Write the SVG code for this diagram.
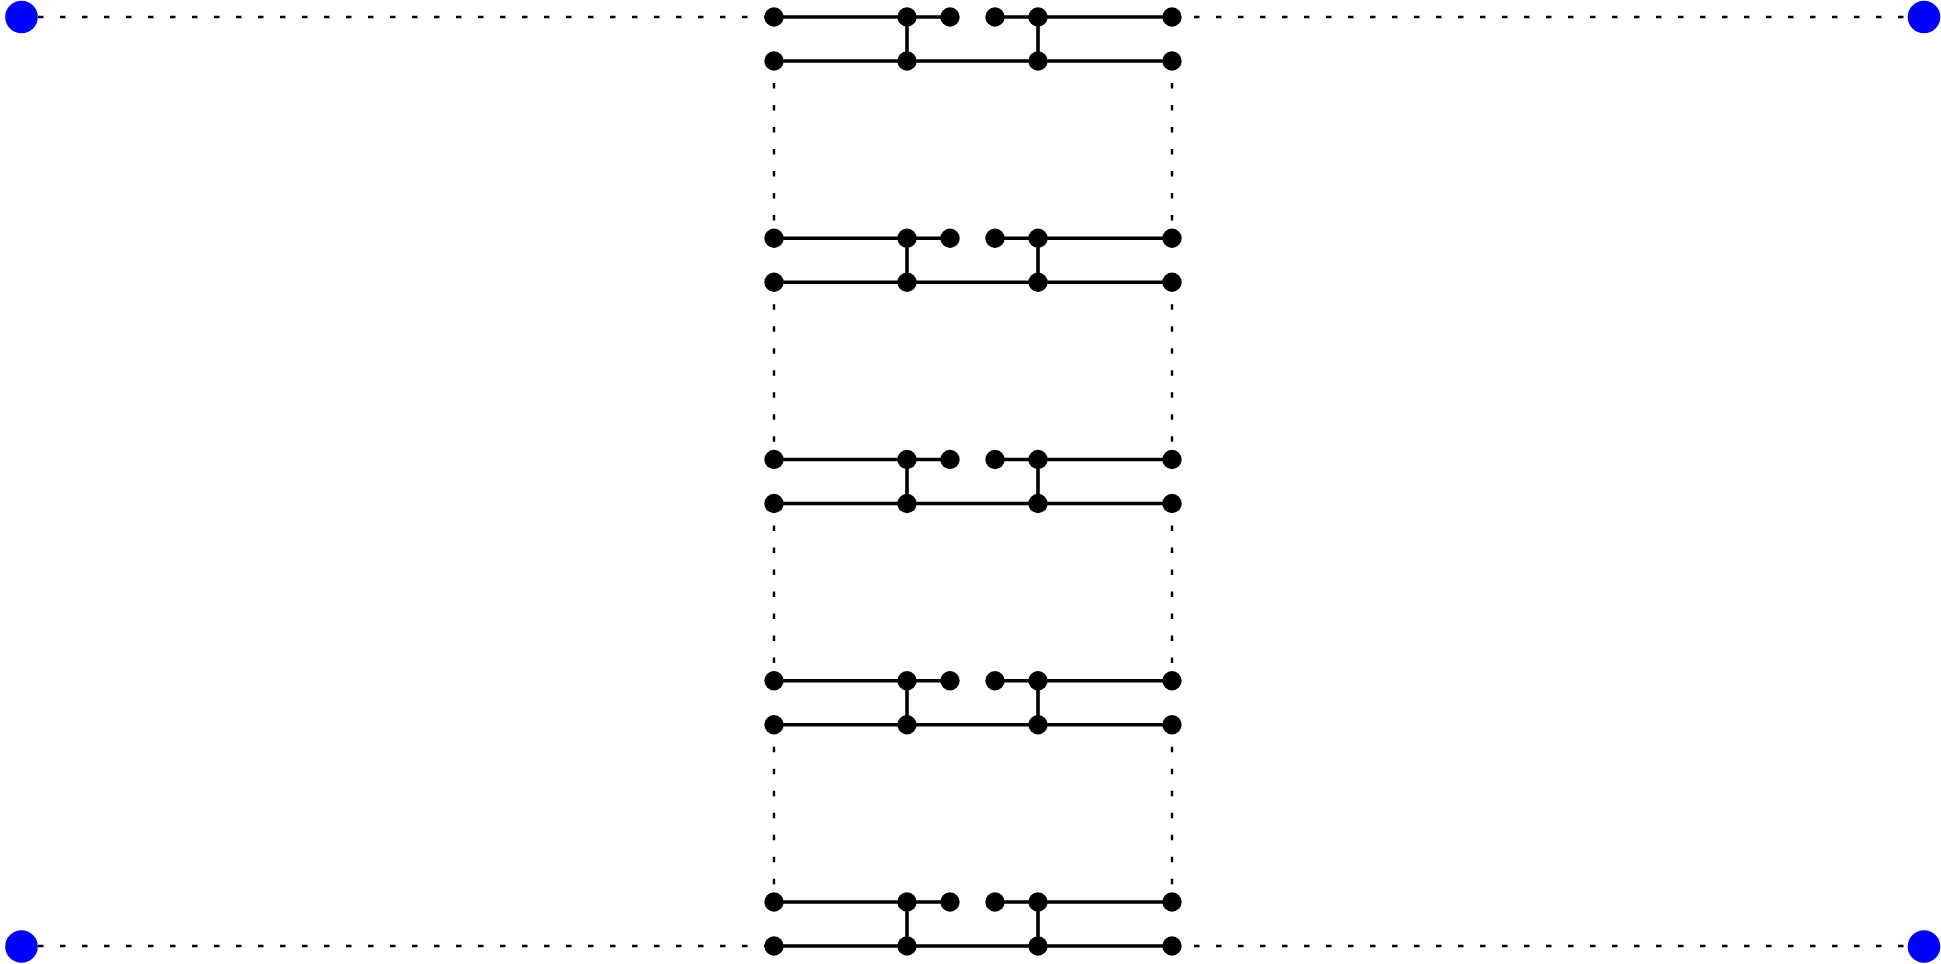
<svg xmlns="http://www.w3.org/2000/svg" width="1941" height="964" viewBox="0 0 1941 964">
<defs>
<style>
.s{stroke:#000;stroke-width:3.6;fill:none}
.d{stroke:#000;stroke-width:2.4;fill:none;stroke-dasharray:5.5 16.5}
.n{fill:#000}
.b{fill:#0000ff}
</style>
<g id="blk">
<line class="s" x1="774" y1="0" x2="950" y2="0"/>
<line class="s" x1="995" y1="0" x2="1172" y2="0"/>
<line class="s" x1="774" y1="44" x2="1172" y2="44"/>
<line class="s" x1="907" y1="0" x2="907" y2="44"/>
<line class="s" x1="1038" y1="0" x2="1038" y2="44"/>
<circle class="n" cx="774" cy="0" r="9.7"/>
<circle class="n" cx="907" cy="0" r="9.7"/>
<circle class="n" cx="950" cy="0" r="9.7"/>
<circle class="n" cx="995" cy="0" r="9.7"/>
<circle class="n" cx="1038" cy="0" r="9.7"/>
<circle class="n" cx="1172" cy="0" r="9.7"/>
<circle class="n" cx="774" cy="44" r="9.7"/>
<circle class="n" cx="907" cy="44" r="9.7"/>
<circle class="n" cx="1038" cy="44" r="9.7"/>
<circle class="n" cx="1172" cy="44" r="9.7"/>
</g>
</defs>
<rect width="1941" height="964" fill="#fff"/>
<g id="connectors">
<line class="d" x1="38" y1="17" x2="774" y2="17"/>
<line class="d" x1="1172" y1="17" x2="1924" y2="17"/>
<line class="d" x1="38" y1="946" x2="774" y2="946"/>
<line class="d" x1="1172" y1="946" x2="1924" y2="946"/>
<line class="d" x1="774" y1="61" x2="774" y2="238"/>
<line class="d" x1="1172" y1="61" x2="1172" y2="238"/>
<line class="d" x1="774" y1="282.3" x2="774" y2="459.5"/>
<line class="d" x1="1172" y1="282.3" x2="1172" y2="459.5"/>
<line class="d" x1="774" y1="503.5" x2="774" y2="680.8"/>
<line class="d" x1="1172" y1="503.5" x2="1172" y2="680.8"/>
<line class="d" x1="774" y1="724.8" x2="774" y2="902"/>
<line class="d" x1="1172" y1="724.8" x2="1172" y2="902"/>
</g>
<g id="block1"><use href="#blk" y="17"/></g>
<g id="block2"><use href="#blk" y="238.25"/></g>
<g id="block3"><use href="#blk" y="459.5"/></g>
<g id="block4"><use href="#blk" y="680.75"/></g>
<g id="block5"><use href="#blk" y="902"/></g>
<g id="tl"><circle class="b" cx="21.5" cy="17" r="16.3"/></g>
<g id="tr"><circle class="b" cx="1924" cy="17" r="16.3"/></g>
<g id="bl"><circle class="b" cx="21.5" cy="946.5" r="16.3"/></g>
<g id="br"><circle class="b" cx="1924" cy="946.5" r="16.3"/></g>
</svg>
